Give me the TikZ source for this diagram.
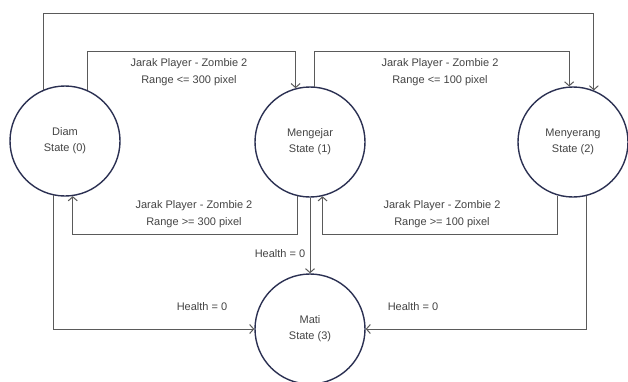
\documentclass[tikz,border=0pt]{standalone}
\usepackage{fontspec}
\setmainfont{Liberation Sans}
\usetikzlibrary{arrows.meta}
\definecolor{circ}{HTML}{2B3052}
\definecolor{conn}{HTML}{5A5A5A}
\definecolor{txt}{HTML}{444444}
\begin{document}
\begin{tikzpicture}[x=1pt,y=-1pt,
  state/.style={circle,draw=circ,line width=1.4pt,minimum size=110pt,inner sep=0pt,
    align=center,text=txt,font=\fontsize{11}{16}\selectfont},
  conn/.style={draw=conn,line width=1pt,-{Straight Barb[length=4pt,width=9pt]}},
  lbl/.style={text=txt,align=center,font=\fontsize{11}{17}\selectfont,inner sep=0pt}]
\useasboundingbox[fill=white] (0,0) rectangle (628,381);
\node[state] (diam) at (65,141) {Diam\\State (0)};
\node[state] (meng) at (310,142) {Mengejar\\State (1)};
\node[state] (menyer) at (573,142) {Menyerang\\State (2)};
\node[state] (mati) at (310,329) {Mati\\State (3)};
\coordinate (t0) at (0,13);
\coordinate (t1) at (0,51);
\coordinate (b1) at (0,234);
\draw[conn] (diam.113.6) -- (diam.113.6 |- t0) -| (menyer.68.7);
\draw[conn] (diam.66.4) -- (diam.66.4 |- t1) -| (meng.105.8);
\draw[conn] (meng.85.8) -- (meng.85.8 |- t1) -| (menyer.94.2);
\draw[conn] (meng.257.4) -- (meng.257.4 |- b1) -| (diam.278.4);
\draw[conn] (menyer.254.2) -- (menyer.254.2 |- b1) -| (meng.283.7);
\draw[conn] (meng.270) -- (mati.90);
\draw[conn] (diam.258.5) |- (mati.west);
\draw[conn] (menyer.284.7) |- (mati.east);
\node[lbl] (l1) at (189,72) {Jarak Player - Zombie 2\\Range <= 300 pixel};
\node[lbl] (l2) at (440,72) {Jarak Player - Zombie 2\\Range <= 100 pixel};
\node[lbl] (l3) at (194,214) {Jarak Player - Zombie 2\\Range >= 300 pixel};
\node[lbl] (l4) at (442,214) {Jarak Player - Zombie 2\\Range >= 100 pixel};
\node[lbl] (h1) at (280,254) {Health = 0};
\node[lbl] (h2) at (202,307) {Health = 0};
\node[lbl] (h3) at (413,307) {Health = 0};
\end{tikzpicture}
\end{document}
